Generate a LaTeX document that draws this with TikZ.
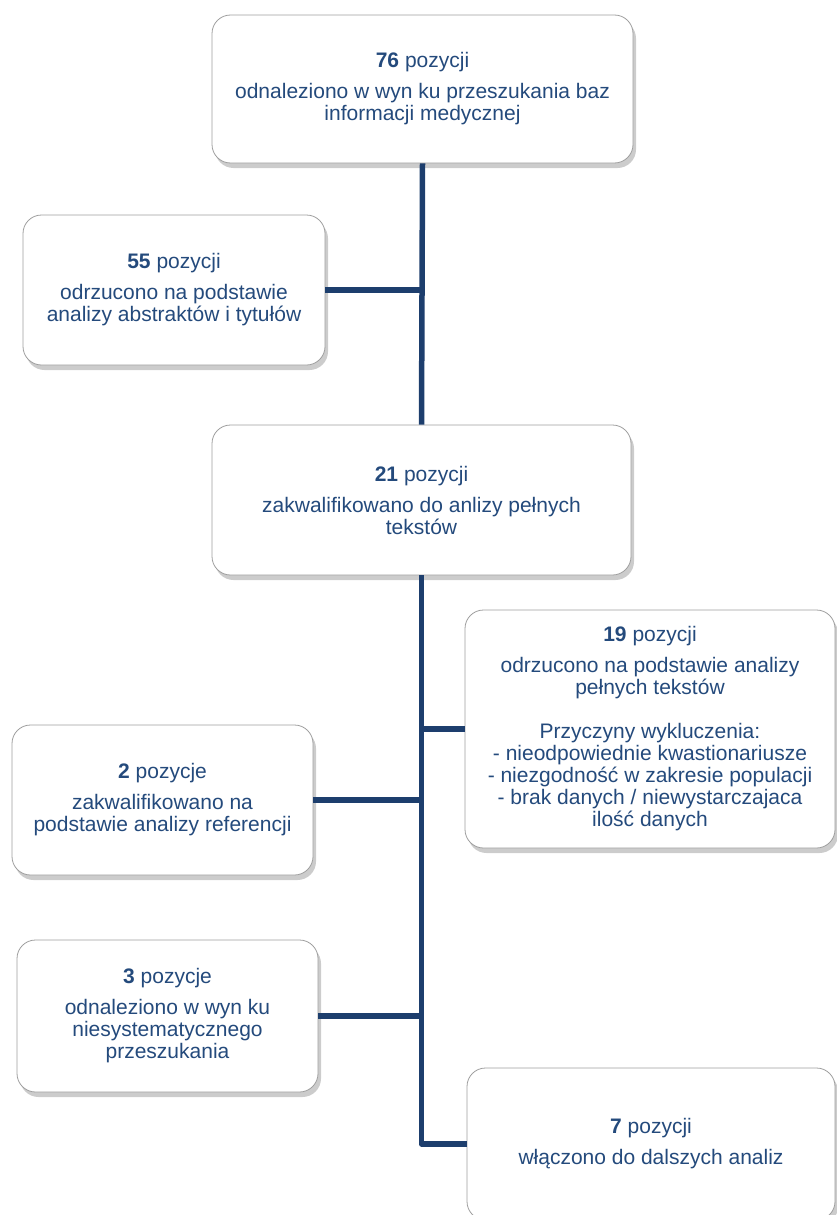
\documentclass[tikz,border=0pt]{standalone}
\usepackage{fontspec}
\setmainfont{Liberation Sans}
\usepackage{tikz}
\usetikzlibrary{positioning,shadows}

\definecolor{boxtext}{HTML}{244A7C}
\definecolor{linkline}{HTML}{1D3E6D}

\begin{document}
\begin{tikzpicture}[x=1pt, y=-1pt,
    stage/.style={rectangle, draw=black!38, line width=0.8pt, rounded corners=6.5mm, fill=white,
        drop shadow={shadow xshift=3pt, shadow yshift=-5pt, fill=black!40, opacity=0.5},
        text centered, align=center, text=boxtext, inner sep=4pt,
        font=\fontsize{21}{22}\selectfont},
    link/.style={draw=linkline, line width=5.5pt, line join=round}
    ]
    \useasboundingbox (0,0) rectangle (837,1215);

    \node (Search00) [stage, minimum width=421pt, minimum height=148pt] at (422.5,89)
        {\textbf{76} pozycji\\[9pt] odnaleziono w wyn ku przeszukania baz\\ informacji medycznej};
    \node (Reject01) [stage, minimum width=302pt, minimum height=150pt] at (174,290)
        {\textbf{55} pozycji\\[9pt] odrzucono na podstawie\\ analizy abstraktów i tytułów};
    \node (Full02) [stage, minimum width=419pt, minimum height=150pt] at (421.5,500)
        {\textbf{21} pozycji\\[9pt] zakwalifikowano do anlizy pełnych\\ tekstów};
    \node (Reject03) [stage, minimum width=370pt, minimum height=238pt] at (650,729)
        {\textbf{19} pozycji\\[9pt] odrzucono na podstawie analizy\\ pełnych tekstów\\[22pt]
         Przyczyny wykluczenia:\\ - nieodpowiednie kwastionariusze\\
         - niezgodność w zakresie populacji\\ - brak danych / niewystarczajaca\\ ilość danych};
    \node (Ref04) [stage, minimum width=301pt, minimum height=150pt] at (162.5,800)
        {\textbf{2} pozycje\\[9pt] zakwalifikowano na\\ podstawie analizy referencji};
    \node (Other05) [stage, minimum width=301pt, minimum height=152pt] at (167.5,1016)
        {\textbf{3} pozycje\\[9pt] odnaleziono w wyn ku\\ niesystematycznego\\ przeszukania};
    \node (Final06) [stage, minimum width=368pt, minimum height=152pt] at (651,1144)
        {\textbf{7} pozycji\\[9pt] włączono do dalszych analiz};

    % trunk and branches
    \draw [link] (Search00.south) -- (Full02.north);
    \draw [link] (Reject01.east) -- (Reject01.east -| Search00.south);
    \draw [link] (Full02.south) |- (Final06.west);
    \draw [link] (Reject03.west) -- (Reject03.west -| Full02.south);
    \draw [link] (Ref04.east) -- (Ref04.east -| Full02.south);
    \draw [link] (Other05.east) -- (Other05.east -| Full02.south);
\end{tikzpicture}
\end{document}
